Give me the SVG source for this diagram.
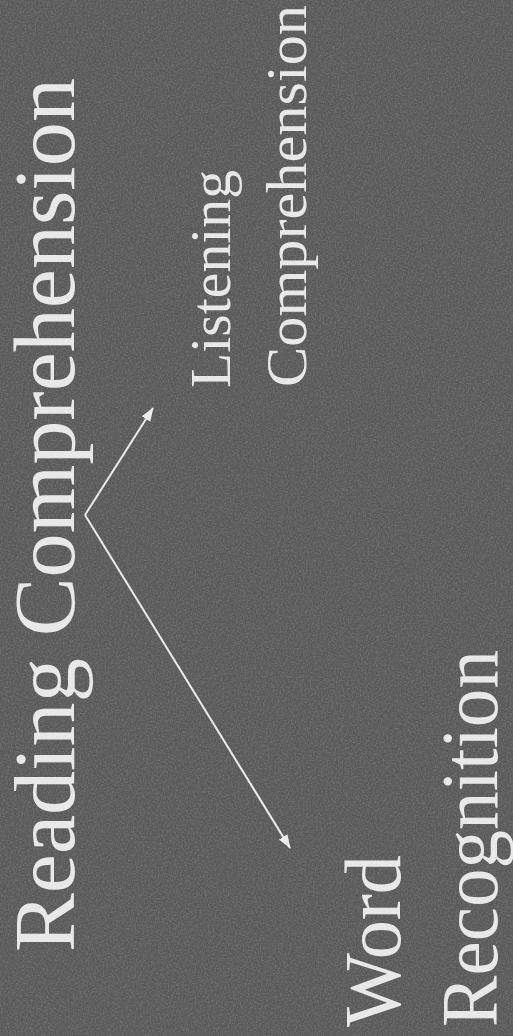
<svg xmlns="http://www.w3.org/2000/svg" width="513" height="1036" viewBox="0 0 513 1036">
<defs>
<filter id="noise" x="0" y="0" width="100%" height="100%">
<feTurbulence type="fractalNoise" baseFrequency="0.6" numOctaves="2" seed="3" result="t"/>
<feColorMatrix in="t" type="matrix" values="0 0 0 0 0.36  0 0 0 0 0.36  0 0 0 0 0.36  0.5 0 0 0 -0.2" result="n"/>
<feComposite in="n" in2="SourceGraphic" operator="over"/>
</filter>
<marker id="ah" markerUnits="userSpaceOnUse" markerWidth="14" markerHeight="12" refX="13" refY="6" orient="auto">
<path d="M0,1 L14,6 L0,11 Z" fill="#ececec"/>
</marker>
<style>
.t{font-family:"Liberation Serif","Times New Roman",serif;fill:#e8e8e8}
.c{stroke:#ececec;stroke-width:2;fill:none}
</style>
</defs>
<rect width="513" height="1036" fill="#5a5a5a" filter="url(#noise)"/>
<g id="reading-comprehension">
<text class="t" x="74" y="952" font-size="86" textLength="874" lengthAdjust="spacingAndGlyphs" transform="rotate(-90 74 952)">Reading Comprehension</text>
</g>
<g id="listening-comprehension">
<text class="t" x="230" y="388" font-size="58" textLength="218" lengthAdjust="spacingAndGlyphs" transform="rotate(-90 230 388)">Listening</text>
<text class="t" x="306" y="387" font-size="58" textLength="382" lengthAdjust="spacingAndGlyphs" transform="rotate(-90 306 387)">Comprehension</text>
</g>
<g id="word-recognition">
<text class="t" x="400" y="1027" font-size="80" textLength="172" lengthAdjust="spacingAndGlyphs" transform="rotate(-90 400 1027)">Word</text>
<text class="t" x="497" y="1027" font-size="80" textLength="377" lengthAdjust="spacingAndGlyphs" transform="rotate(-90 497 1027)">Recognition</text>
</g>
<g id="connectors">
<line class="c" x1="85" y1="515" x2="153" y2="408" marker-end="url(#ah)"/>
<line class="c" x1="85" y1="515" x2="290" y2="848" marker-end="url(#ah)"/>
</g>
</svg>
